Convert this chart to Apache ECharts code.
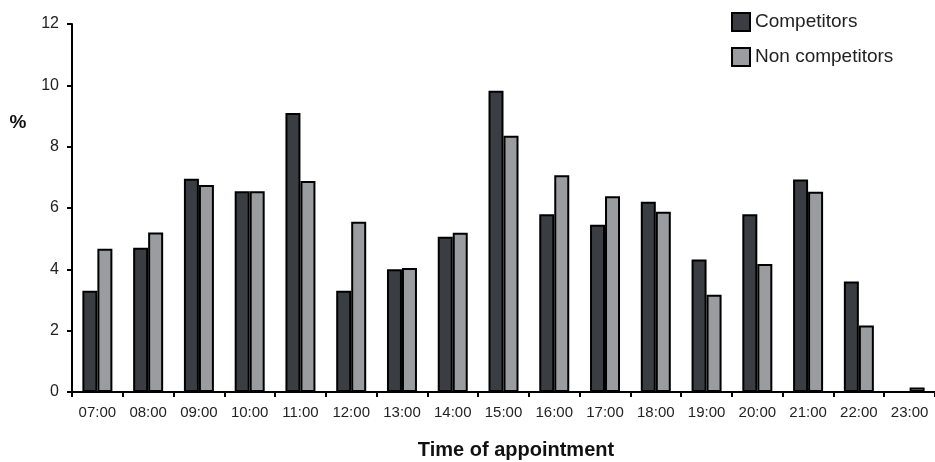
<!DOCTYPE html>
<html>
<head>
<meta charset="utf-8">
<script src="https://cdn.jsdelivr.net/npm/echarts@6/dist/echarts.min.js"></script>
<style>html,body{margin:0;padding:0;background:#fff}#c{width:935px;height:462px}</style>
</head>
<body>
<div id="c"></div>
<script>
var categories = ['07:00','08:00','09:00','10:00','11:00','12:00','13:00','14:00','15:00','16:00','17:00','18:00','19:00','20:00','21:00','22:00','23:00'];
var competitors = [3.3, 4.7, 6.95, 6.55, 9.1, 3.3, 4.0, 5.06, 9.82, 5.8, 5.45, 6.2, 4.32, 5.8, 6.93, 3.6, 0];
var nonCompetitors = [4.67, 5.2, 6.75, 6.55, 6.88, 5.55, 4.04, 5.19, 8.36, 7.07, 6.38, 5.88, 3.17, 4.17, 6.53, 2.17, 0.15];
var yTicks = [0, 2, 4, 6, 8, 10, 12];

var font = '"Liberation Sans", Arial, sans-serif';
var chart = echarts.init(document.getElementById('c'));
chart.setOption({
  animation: false,
  textStyle: {fontFamily: font},
  grid: {left: 72, right: -3, top: 24, bottom: 70, containLabel: false},
  legend: {
    orient: 'vertical', left: 726, top: 7, itemWidth: 18, itemHeight: 18, itemGap: 15,
    icon: 'rect',
    textStyle: {fontSize: 19, color: '#222', fontFamily: font},
    data: ['Competitors', 'Non competitors']
  },
  xAxis: {
    type: 'category', data: categories, boundaryGap: true,
    axisLine: {lineStyle: {color: '#000', width: 2}},
    axisTick: {show: true, alignWithLabel: false, length: 5, lineStyle: {color: '#000', width: 2}},
    axisLabel: {fontSize: 15, color: '#222', margin: 13, interval: 0}
  },
  yAxis: {
    type: 'value', min: yTicks[0], max: yTicks[yTicks.length - 1], interval: 2,
    splitLine: {show: false},
    axisLine: {show: true, lineStyle: {color: '#000', width: 2}},
    axisTick: {show: true, length: 5, lineStyle: {color: '#000', width: 2}},
    axisLabel: {fontSize: 16, color: '#222', margin: 13}
  },
  graphic: [
    {type: 'text', x: 18, y: 123, style: {text: '%', font: 'bold 19px ' + font, fill: '#111', align: 'center', verticalAlign: 'middle'}},
    {type: 'text', x: 516, y: 450, style: {text: 'Time of appointment', font: 'bold 20px ' + font, fill: '#111', align: 'center', verticalAlign: 'middle'}}
  ],
  series: [
    {name: 'Competitors', type: 'bar', data: competitors, barWidth: 15, barGap: '0%',
     itemStyle: {color: '#3a3d41', borderColor: '#000', borderWidth: 2}},
    {name: 'Non competitors', type: 'bar', data: nonCompetitors, barWidth: 15, barGap: '0%',
     itemStyle: {color: '#9a9ca0', borderColor: '#000', borderWidth: 2}}
  ]
});
</script>
</body>
</html>
